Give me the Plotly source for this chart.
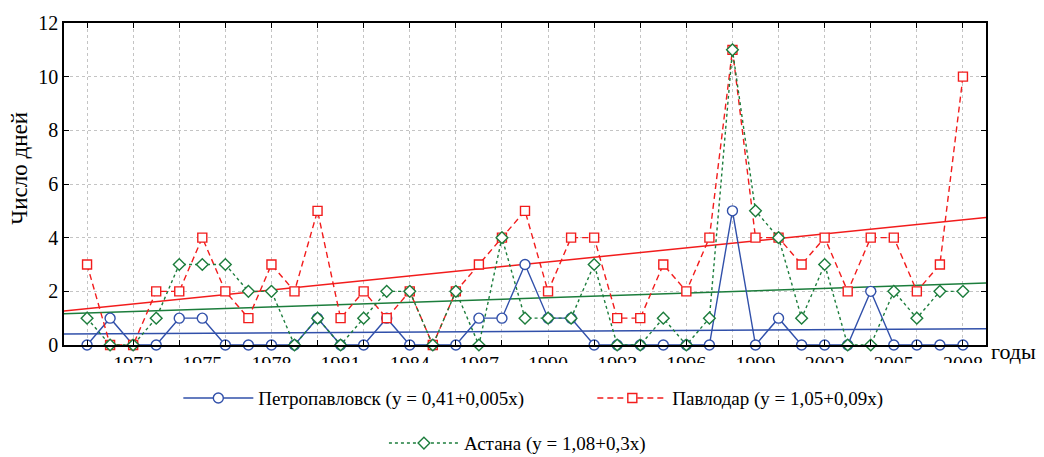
import plotly.graph_objects as go

years = list(range(1970, 2009))
petropavlovsk = [0, 1, 0, 0, 1, 1, 0, 0, 0, 0, 1, 0, 0, 1, 0, 0, 0, 1, 1, 3,
                 1, 1, 0, 0, 0, 0, 0, 0, 5, 0, 1, 0, 0, 0, 2, 0, 0, 0, 0]
pavlodar = [3, 0, 0, 2, 2, 4, 2, 1, 3, 2, 5, 1, 2, 1, 2, 0, 2, 3, 4, 5,
            2, 4, 4, 1, 1, 3, 2, 4, 11, 4, 4, 3, 4, 2, 4, 4, 2, 3, 10]
astana = [1, 0, 0, 1, 3, 3, 3, 2, 2, 0, 1, 0, 1, 2, 2, 0, 2, 0, 4, 1,
          1, 1, 3, 0, 0, 1, 0, 1, 11, 5, 4, 1, 3, 0, 0, 2, 1, 2, 2]

names = ["Петропавловск (y = 0,41+0,005x)", "Павлодар (y = 1,05+0,09x)", "Астана (y = 1,08+0,3x)"]
# trend lines as drawn (value at 1969 and slope per year)
trend_start = [0.41, 1.27, 1.16]
trend_slope = [0.005, 0.087, 0.0287]
trend_x = [1969, 2009]

tick_years = list(range(1972, 2009, 3))
grid_years = list(range(1970, 2009, 2))

colors = ["#3150aa", "#f21c1c", "#1c7d3c"]
symbols = ["circle", "square", "diamond"]
sizes = [10, 9, 9]
dashes = ["solid", "6px,4px", "dot"]
series = [petropavlovsk, pavlodar, astana]
legends = ["legend", "legend", "legend2"]

fig = go.Figure()
for i in range(3):
    fig.add_trace(go.Scatter(
        x=trend_x, y=[trend_start[i] + trend_slope[i] * (x - trend_x[0]) for x in trend_x],
        mode="lines", line=dict(color=colors[i], width=1.5), showlegend=False, hoverinfo="skip"))
for i in range(3):
    fig.add_trace(go.Scatter(
        x=years, y=series[i], name=names[i], mode="lines+markers",
        line=dict(color=colors[i], width=1.4, dash=dashes[i]),
        marker=dict(symbol=symbols[i], size=sizes[i], color="white",
                    line=dict(color=colors[i], width=1.4)),
        legend=legends[i], cliponaxis=False))

font = "Liberation Serif, DejaVu Serif, serif"
# the page body adds an 8px margin, so the figure is 8px smaller than the window
fig.update_layout(
    width=1036, height=449,
    margin=dict(l=56, r=58, t=15, b=112, autoexpand=False),
    paper_bgcolor="white", plot_bgcolor="white",
    font=dict(family=font, size=19, color="black"),
    legend=dict(orientation="h", x=0.124, y=-0.106, xanchor="left", yanchor="top",
                itemwidth=70, entrywidth=329, font=dict(size=19, family=font),
                bgcolor="rgba(0,0,0,0)"),
    legend2=dict(orientation="h", x=0.347, y=-0.246, xanchor="left", yanchor="top",
                 itemwidth=70, font=dict(size=19, family=font),
                 bgcolor="rgba(0,0,0,0)"),
)
fig.update_xaxes(
    range=[1969, 2009], tickmode="array", tickvals=tick_years,
    ticktext=[str(y) for y in tick_years], ticks="", showgrid=False,
    tickfont=dict(size=20, family=font), zeroline=False,
    showline=True, linecolor="black", linewidth=1.5, mirror="ticks",
    minor=dict(tickmode="array", tickvals=grid_years, ticks="inside", ticklen=5,
               tickcolor="black", showgrid=True, gridcolor="#c4c4c4", griddash="dot", gridwidth=1),
)
fig.update_yaxes(
    range=[0, 12], dtick=2, ticks="inside", ticklen=5, tickcolor="black",
    showline=True, linecolor="black", linewidth=1.5, mirror="ticks",
    showgrid=True, gridcolor="#c4c4c4", griddash="dot", gridwidth=1, zeroline=False,
    tickfont=dict(size=20, family=font),
)
# white band that clips the lower part of the year labels, as in the reference
fig.add_shape(type="rect", xref="paper", yref="paper", x0=-0.05, x1=1.0, y0=-0.056, y1=-0.11,
              fillcolor="white", line=dict(width=0), layer="above")
fig.add_annotation(text="Число дней", xref="paper", yref="paper", x=-0.048, y=0.55,
                   textangle=-90, xanchor="center", yanchor="middle", showarrow=False,
                   font=dict(size=23, family=font, color="black"))
fig.add_annotation(text="годы", xref="paper", yref="paper", x=1.003, y=-0.02,
                   xanchor="left", yanchor="middle", showarrow=False,
                   font=dict(size=22, family=font, color="black"))

fig.write_html("out.html")
